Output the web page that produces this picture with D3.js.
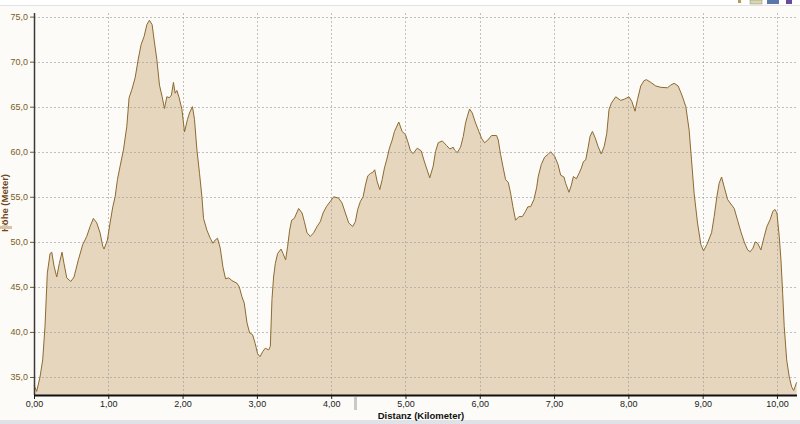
<!DOCTYPE html>
<html>
<head>
<meta charset="utf-8">
<script src="https://cdn.jsdelivr.net/npm/d3@7"></script>
<style>
  body { margin: 0; background: #fcfbf7; }
  svg { display: block; }
</style>
</head>
<body>
<script>
// elevation profile: distance (km) and height (m)
const distKm = [
  0.000, 0.036, 0.081, 0.117, 0.148, 0.179, 0.216, 0.239, 0.270, 0.306,
  0.341, 0.377, 0.404, 0.441, 0.495, 0.539, 0.597, 0.656, 0.710, 0.755,
  0.799, 0.845, 0.889, 0.926, 0.943, 0.988, 1.024, 1.061, 1.092, 1.123,
  1.159, 1.204, 1.249, 1.280, 1.317, 1.361, 1.406, 1.442, 1.482, 1.519,
  1.554, 1.590, 1.617, 1.654, 1.689, 1.725, 1.756, 1.788, 1.823, 1.850,
  1.877, 1.900, 1.923, 1.954, 1.991, 2.026, 2.066, 2.093, 2.133, 2.160,
  2.193, 2.228, 2.260, 2.282, 2.327, 2.372, 2.408, 2.439, 2.470, 2.507,
  2.543, 2.578, 2.621, 2.664, 2.732, 2.763, 2.799, 2.830, 2.867, 2.902,
  2.942, 2.978, 3.009, 3.042, 3.077, 3.113, 3.158, 3.181, 3.203, 3.225,
  3.248, 3.279, 3.325, 3.352, 3.387, 3.414, 3.441, 3.468, 3.504, 3.562,
  3.608, 3.639, 3.675, 3.720, 3.764, 3.810, 3.854, 3.891, 3.935, 3.989,
  4.034, 4.101, 4.147, 4.191, 4.236, 4.290, 4.326, 4.357, 4.394, 4.430,
  4.461, 4.492, 4.528, 4.559, 4.586, 4.619, 4.654, 4.686, 4.717, 4.753,
  4.784, 4.821, 4.852, 4.910, 4.955, 5.000, 5.036, 5.067, 5.104, 5.158,
  5.212, 5.247, 5.283, 5.327, 5.373, 5.404, 5.441, 5.495, 5.553, 5.597,
  5.643, 5.660, 5.697, 5.741, 5.778, 5.809, 5.832, 5.863, 5.899, 5.943,
  5.988, 6.024, 6.065, 6.109, 6.159, 6.226, 6.249, 6.280, 6.311, 6.348,
  6.384, 6.415, 6.446, 6.482, 6.527, 6.573, 6.617, 6.648, 6.685, 6.729,
  6.765, 6.788, 6.829, 6.873, 6.918, 6.954, 7.008, 7.053, 7.089, 7.133,
  7.156, 7.201, 7.233, 7.260, 7.300, 7.336, 7.368, 7.395, 7.426, 7.457,
  7.484, 7.516, 7.551, 7.592, 7.635, 7.675, 7.709, 7.740, 7.772, 7.830,
  7.898, 7.951, 8.009, 8.046, 8.090, 8.123, 8.167, 8.212, 8.244, 8.302,
  8.369, 8.437, 8.527, 8.571, 8.616, 8.670, 8.720, 8.774, 8.818, 8.850,
  8.885, 8.931, 8.976, 9.012, 9.057, 9.120, 9.155, 9.191, 9.222, 9.255,
  9.290, 9.336, 9.380, 9.425, 9.470, 9.515, 9.559, 9.605, 9.640, 9.677,
  9.708, 9.740, 9.784, 9.829, 9.865, 9.910, 9.946, 9.973, 10.000, 10.031,
  10.054, 10.077, 10.098, 10.131, 10.166, 10.198, 10.225, 10.265
]
const heightM = [
  34.1, 33.4, 35.0, 36.9, 40.6, 46.5, 48.7, 48.85, 47.3, 46.1,
  47.6, 48.85, 47.6, 46.0, 45.6, 46.1, 48.0, 49.7, 50.6, 51.7,
  52.6, 52.1, 51.0, 49.5, 49.2, 50.2, 52.1, 53.9, 55.0, 56.9,
  58.4, 60.2, 62.8, 66.0, 66.9, 68.2, 70.4, 71.9, 72.8, 74.1,
  74.6, 74.1, 72.4, 70.2, 67.4, 66.1, 64.8, 66.1, 66.0, 66.3,
  67.7, 66.5, 66.8, 66.0, 64.7, 62.2, 63.6, 64.3, 65.0, 63.6,
  60.2, 57.6, 55.0, 52.6, 51.3, 50.4, 49.85, 50.2, 50.4, 49.3,
  47.2, 45.9, 46.0, 45.7, 45.4, 45.0, 43.9, 43.2, 41.0, 39.9,
  39.7, 38.7, 37.6, 37.25, 37.8, 38.2, 38.0, 38.4, 43.6, 46.1,
  47.6, 48.7, 49.2, 48.7, 48.0, 49.5, 51.3, 52.4, 52.6, 53.7,
  53.2, 52.25, 51.0, 50.6, 51.0, 51.7, 52.25, 53.2, 53.9, 54.5,
  55.0, 54.85, 54.3, 53.2, 52.1, 51.7, 52.25, 53.6, 54.5, 55.0,
  56.3, 57.3, 57.6, 57.7, 58.0, 56.7, 55.8, 56.9, 58.2, 59.3,
  60.4, 61.3, 62.25, 63.3, 62.25, 61.9, 61.0, 60.1, 59.8, 60.4,
  60.1, 59.1, 58.2, 57.1, 58.4, 60.0, 61.0, 61.2, 60.7, 60.3,
  60.5, 60.2, 59.9, 60.5, 61.7, 63.2, 63.9, 64.75, 64.3, 63.2,
  62.25, 61.5, 61.0, 61.3, 61.8, 61.8, 61.3, 59.7, 58.4, 56.9,
  56.6, 55.4, 53.9, 52.4, 52.8, 52.8, 53.4, 53.9, 53.9, 54.7,
  56.0, 57.3, 58.6, 59.4, 59.7, 60.0, 59.5, 58.6, 57.4, 57.2,
  56.5, 55.5, 56.3, 57.25, 57.0, 57.6, 58.2, 58.9, 59.1, 60.4,
  61.7, 62.25, 61.6, 60.6, 59.75, 60.6, 62.0, 64.7, 65.4, 66.1,
  65.7, 65.85, 66.1, 65.6, 64.5, 65.8, 67.3, 67.9, 68.0, 67.7,
  67.3, 67.15, 67.1, 67.4, 67.6, 67.3, 66.3, 65.0, 62.4, 59.1,
  55.4, 52.1, 49.7, 49.0, 49.7, 51.0, 52.8, 55.0, 56.5, 57.2,
  56.1, 54.7, 54.2, 53.7, 52.4, 51.1, 50.0, 49.1, 48.9, 49.3,
  50.0, 49.85, 49.1, 50.6, 51.7, 52.5, 53.4, 53.6, 53.2, 50.6,
  48.0, 44.3, 40.6, 36.9, 35.0, 33.9, 33.5, 34.4
]
const xTicks = [0, 1, 2, 3, 4, 5, 6, 7, 8, 9, 10]
const yTicks = [35, 40, 45, 50, 55, 60, 65, 70, 75]

const W = 800, H = 424
const plotLeft = 34, plotRight = 797, plotTop = 13, plotBottom = 395
const font = "Liberation Sans, Arial, sans-serif"

const data = distKm.map((d, i) => ({km: d, m: heightM[i]}))

const x = d3.scaleLinear().domain([0, 10.27]).range([plotLeft, plotRight])
const y = d3.scaleLinear().domain([33.0, 75.4]).range([plotBottom, plotTop])

const svg = d3.select("body").append("svg")
    .attr("width", W)
    .attr("height", H)

// backgrounds
svg.append("rect").attr("width", W).attr("height", H).attr("fill", "#fcfbf7")
svg.append("rect").attr("width", W).attr("height", 5).attr("fill", "#ffffff")
svg.append("line").attr("x1", 0).attr("x2", W).attr("y1", 5.5).attr("y2", 5.5)
    .attr("stroke", "#e2e2e2")
svg.append("rect").attr("x", 0).attr("y", 420).attr("width", W).attr("height", 4)
    .attr("fill", "#dfe3e8")

// filled profile
const area = d3.area().x(d => x(d.km)).y0(plotBottom).y1(d => y(d.m))
svg.append("path").datum(data).attr("d", area).attr("fill", "#e6d6be")

// grid
const grid = svg.append("g").attr("stroke", "#9a9a9a").attr("stroke-opacity", 0.6)
    .attr("stroke-dasharray", "2,2")
grid.selectAll(".gx").data(xTicks.slice(1)).join("line")
    .attr("x1", d => Math.round(x(d)) + 0.5).attr("x2", d => Math.round(x(d)) + 0.5)
    .attr("y1", plotTop).attr("y2", plotBottom)
grid.selectAll(".gy").data(yTicks).join("line")
    .attr("x1", plotLeft).attr("x2", plotRight)
    .attr("y1", d => Math.round(y(d)) + 0.5).attr("y2", d => Math.round(y(d)) + 0.5)

// profile line
const line = d3.line().x(d => x(d.km)).y(d => y(d.m))
svg.append("path").datum(data).attr("d", line)
    .attr("fill", "none").attr("stroke", "#8d6a30").attr("stroke-width", 1)

// axes
const yAxis = d3.axisLeft(y).tickValues(yTicks).tickSize(4).tickPadding(2)
    .tickFormat(d => d3.format(".1f")(d).replace(".", ","))
const gy = svg.append("g").attr("transform", `translate(${plotLeft},0)`).call(yAxis)
gy.select(".domain").remove()
gy.selectAll(".tick line").attr("stroke", "#7b5b24")
gy.selectAll("text").attr("fill", "#7b5b24")
    .style("font-family", font).style("font-size", "9px")

const xAxis = d3.axisBottom(x).tickValues(xTicks).tickSize(4).tickPadding(2)
    .tickFormat(d => d3.format(".2f")(d).replace(".", ","))
const gx = svg.append("g").attr("transform", `translate(0,${plotBottom})`).call(xAxis)
gx.select(".domain").remove()
gx.selectAll(".tick line").attr("stroke", "#222")
gx.selectAll("text").attr("fill", "#222")
    .style("font-family", font).style("font-size", "9px")

svg.append("line").attr("x1", plotLeft + 0.5).attr("x2", plotLeft + 0.5)
    .attr("y1", plotTop).attr("y2", plotBottom)
    .attr("stroke", "#3a3a3a").attr("stroke-width", 1.5)
svg.append("line").attr("x1", plotLeft).attr("x2", plotRight)
    .attr("y1", plotBottom + 0.5).attr("y2", plotBottom + 0.5)
    .attr("stroke", "#111").attr("stroke-width", 2)

// axis titles
svg.append("text").text("Distanz (Kilometer)")
    .attr("x", 421).attr("y", 419).attr("text-anchor", "middle")
    .attr("fill", "#111").style("font-weight", "bold")
    .style("font-family", font).style("font-size", "9.5px")
svg.append("text").text("Höhe (Meter)")
    .attr("transform", "translate(8,203) rotate(-90)").attr("text-anchor", "middle")
    .attr("fill", "#6b4618").style("font-weight", "bold")
    .style("font-family", font).style("font-size", "9.5px")

// scroll handles
svg.append("rect").attr("x", 0).attr("y", 226).attr("width", 12).attr("height", 3).attr("fill", "#d9c3a0")
svg.append("rect").attr("x", 354).attr("y", 397).attr("width", 3).attr("height", 13).attr("fill", "#c9c9c9")

// toolbar icons, cut at the top edge
svg.append("rect").attr("x", 738).attr("y", 0).attr("width", 3).attr("height", 3).attr("fill", "#b59a5a")
svg.append("rect").attr("x", 750).attr("y", 0).attr("width", 12).attr("height", 4).attr("fill", "#d8d6b0")
    .attr("stroke", "#8a8a6a").attr("stroke-width", 0.5)
svg.append("rect").attr("x", 767).attr("y", 0).attr("width", 12).attr("height", 4).attr("fill", "#5a78a8")
svg.append("rect").attr("x", 786).attr("y", 0).attr("width", 6).attr("height", 4).attr("fill", "#6a4a9a")
</script>
</body>
</html>
